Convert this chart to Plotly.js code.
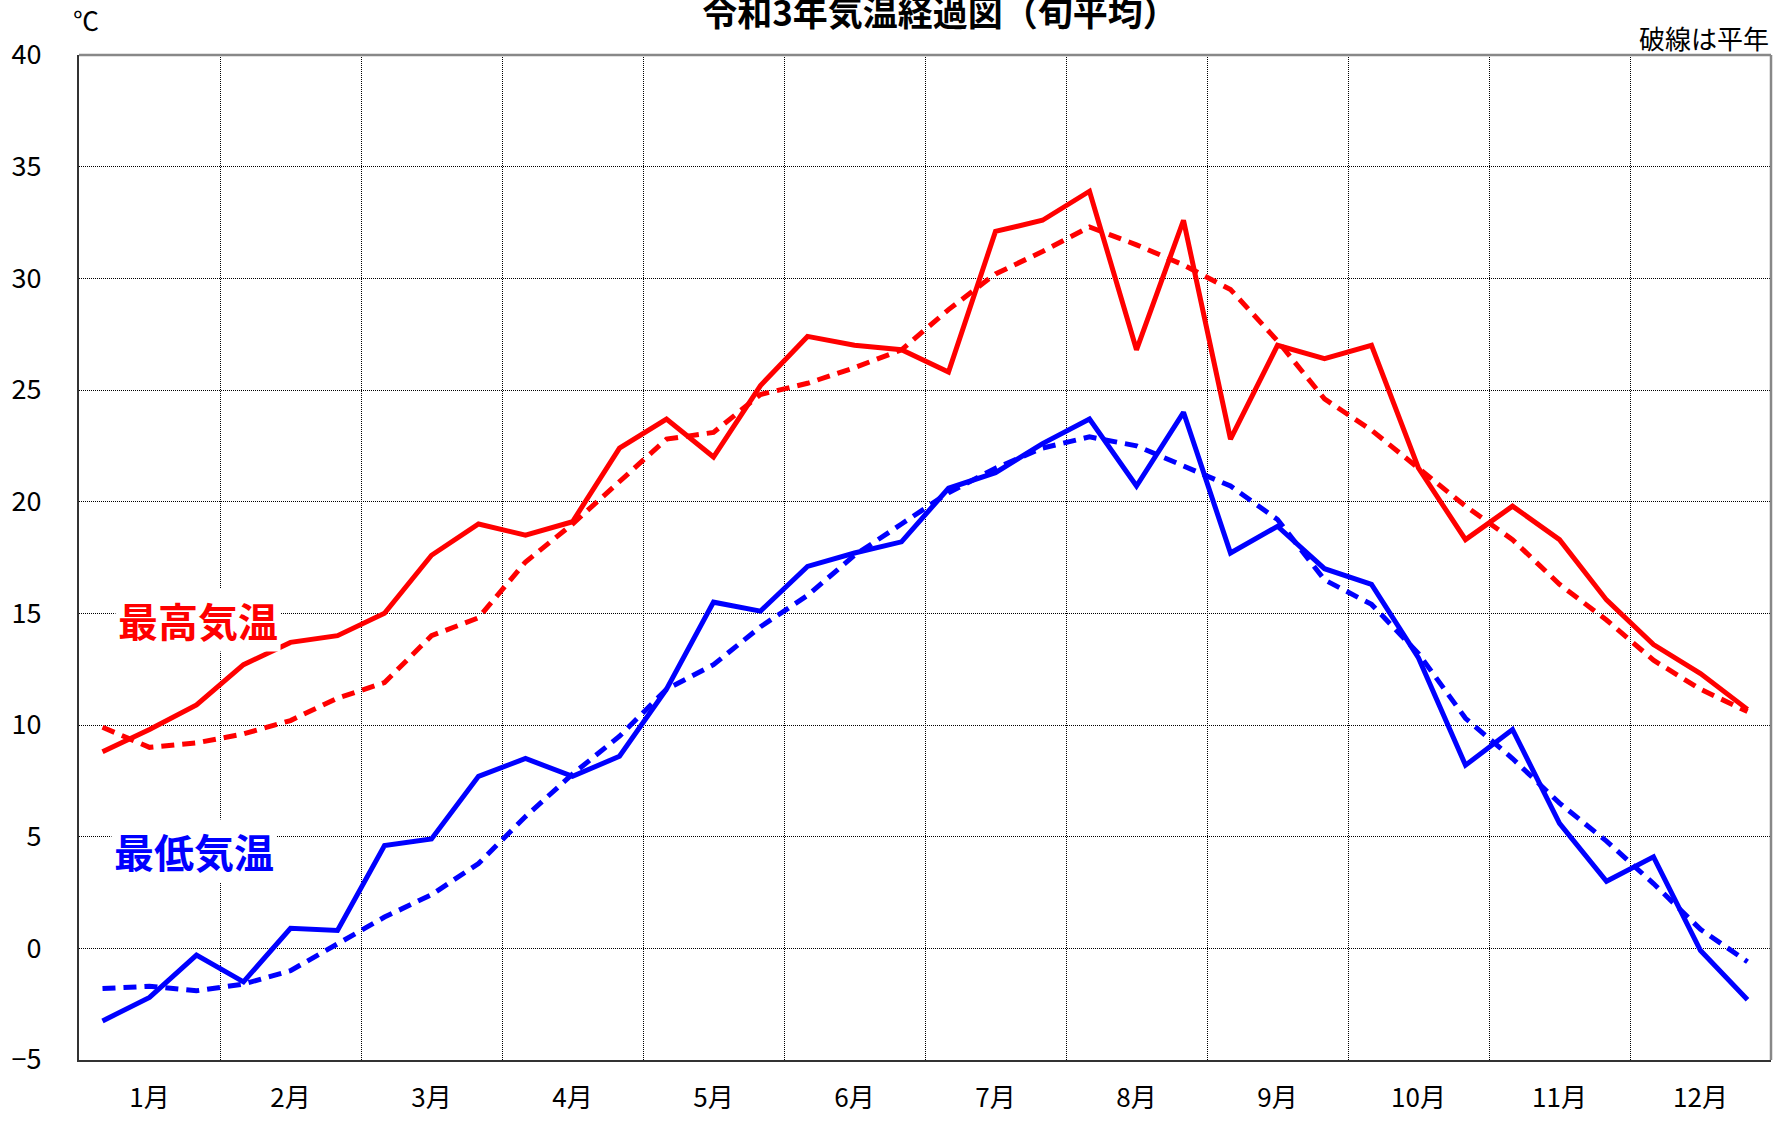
<!DOCTYPE html>
<html>
<head>
<meta charset="utf-8">
<script src="https://cdn.plot.ly/plotly-3.0.1.min.js"></script>
<style>html,body{margin:0;padding:0;background:#fff;}#chart{width:1777px;height:1121px;}</style>
</head>
<body>
<div id="chart"></div>
<script>
// 月・旬
const months = ['1月','2月','3月','4月','5月','6月','7月','8月','9月','10月','11月','12月'];
const dekads = ['上旬','中旬','下旬'];

// 最高気温（実線）
const maxTemp = [8.8, 9.8, 10.9, 12.7, 13.7, 14.0, 15.0, 17.6, 19.0, 18.5, 19.1, 22.4,
                 23.7, 22.0, 25.2, 27.4, 27.0, 26.8, 25.8, 32.1, 32.6, 33.9, 26.8, 32.6,
                 22.8, 27.0, 26.4, 27.0, 21.5, 18.3, 19.8, 18.3, 15.6, 13.6, 12.3, 10.7];
// 最高気温 平年（破線）
const maxNormal = [9.9, 9.0, 9.2, 9.6, 10.2, 11.2, 11.9, 14.0, 14.8, 17.3, 19.0, 20.9,
                   22.8, 23.1, 24.8, 25.3, 26.0, 26.8, 28.6, 30.2, 31.2, 32.3, 31.5, 30.6,
                   29.5, 27.2, 24.6, 23.2, 21.5, 19.8, 18.3, 16.3, 14.7, 12.9, 11.6, 10.6];
// 最低気温（実線）
const minTemp = [-3.25, -2.2, -0.3, -1.5, 0.9, 0.8, 4.6, 4.9, 7.7, 8.5, 7.7, 8.6,
                 11.6, 15.5, 15.1, 17.1, 17.7, 18.2, 20.6, 21.3, 22.6, 23.7, 20.7, 24.0,
                 17.7, 18.9, 17.0, 16.3, 13.0, 8.2, 9.8, 5.6, 3.0, 4.1, -0.1, -2.3];
// 最低気温 平年（破線）
const minNormal = [-1.8, -1.7, -1.9, -1.6, -1.0, 0.2, 1.4, 2.4, 3.8, 5.9, 7.8, 9.5,
                   11.6, 12.7, 14.4, 15.8, 17.6, 19.0, 20.4, 21.5, 22.4, 22.9, 22.5, 21.6,
                   20.7, 19.2, 16.5, 15.4, 13.2, 10.3, 8.5, 6.5, 4.8, 2.9, 0.85, -0.6];

// x: 旬の通し番号 (1..36)
const xIdx = [];
const xLabel = [];
months.forEach((m, mi) => dekads.forEach((d, di) => { xIdx.push(mi * 3 + di + 1); xLabel.push(m + d); }));
const monthCenters = months.map((m, mi) => mi * 3 + 2);
const monthBounds = months.slice(1).map((m, mi) => (mi + 1) * 3 + 0.5);

const FONT = '"Noto Sans CJK JP", "Noto Sans", sans-serif';
const RED = '#ff0000', BLUE = '#0000ff';

function tr(y, color, dash, name) {
  return {
    type: 'scatter', mode: 'lines', x: xIdx, y: y, text: xLabel, name: name,
    line: {color: color, width: 5, dash: dash}, hoverinfo: 'text+y'
  };
}

const data = [
  tr(maxNormal, RED, '13px,8px', '最高気温 平年'),
  tr(minNormal, BLUE, '13px,8px', '最低気温 平年'),
  tr(maxTemp, RED, 'solid', '最高気温'),
  tr(minTemp, BLUE, 'solid', '最低気温')
];

const gridDash = '1px,1px';
const layout = {
  width: 1777, height: 1121,
  margin: {l: 79, r: 6, t: 55, b: 61},
  paper_bgcolor: '#fff', plot_bgcolor: '#fff',
  showlegend: false,
  font: {family: FONT, color: '#000'},
  title: {
    text: '令和3年気温経過図（旬平均）',
    font: {family: FONT, size: 35, weight: 700, color: '#000'},
    xref: 'container', x: 0.529, xanchor: 'center',
    yref: 'container', y: 1 - 26 / 1121, yanchor: 'bottom'
  },
  xaxis: {
    range: [0.5, 36.5], tickmode: 'array', tickvals: monthCenters, ticktext: months,
    showgrid: false, ticks: '', zeroline: false,
    ticklabelstandoff: 14,
    tickfont: {family: FONT, size: 26, color: '#000'},
    minor: {tickmode: 'array', tickvals: monthBounds, showgrid: true,
            gridcolor: '#000', gridwidth: 1, griddash: gridDash, ticks: ''},
    showline: true, linecolor: '#333', linewidth: 2
  },
  yaxis: {
    range: [-5, 40], tickmode: 'linear', tick0: 0, dtick: 5,
    showgrid: true, gridcolor: '#000', gridwidth: 1, griddash: gridDash,
    zeroline: false, ticks: '', ticklabelstandoff: 30,
    showline: true, linecolor: '#333', linewidth: 2,
    tickfont: {family: FONT, size: 27, color: '#000'}
  },
  shapes: [
    {type: 'line', xref: 'paper', yref: 'paper', x0: 0, x1: 1, y0: 1, y1: 1, line: {color: '#888', width: 2.5}},
    {type: 'line', xref: 'paper', yref: 'paper', x0: 1, x1: 1, y0: 0, y1: 1, line: {color: '#888', width: 2.5}}
  ],
  annotations: [
    {text: '℃', xref: 'paper', yref: 'paper', x: 0.004, y: 1.035, xanchor: 'center', yanchor: 'middle',
     showarrow: false, font: {family: FONT, size: 26, color: '#000'}},
    {text: '破線は平年', xref: 'paper', yref: 'paper', x: 1, y: 1.0174, xanchor: 'right', yanchor: 'middle',
     showarrow: false, font: {family: FONT, size: 26, color: '#000'}},
    {text: '最高気温', xref: 'x', yref: 'y', x: 3.03, y: 14.7, xanchor: 'center', yanchor: 'middle',
     showarrow: false, bgcolor: '#fff', borderpad: 2, font: {family: FONT, size: 40, weight: 700, color: RED}},
    {text: '最低気温', xref: 'x', yref: 'y', x: 2.94, y: 4.37, xanchor: 'center', yanchor: 'middle',
     showarrow: false, bgcolor: '#fff', borderpad: 2, font: {family: FONT, size: 40, weight: 700, color: BLUE}}
  ]
};

Plotly.newPlot('chart', data, layout, {displayModeBar: false, staticPlot: true});
</script>
</body>
</html>
